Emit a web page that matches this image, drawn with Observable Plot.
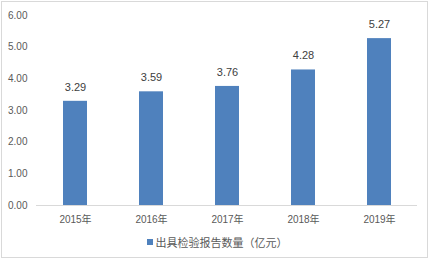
<!DOCTYPE html>
<html>
<head>
<meta charset="utf-8">
<script src="https://cdn.jsdelivr.net/npm/d3@7"></script>
<script src="https://cdn.jsdelivr.net/npm/@observablehq/plot@0.6"></script>
<style>
  body { margin: 0; background: #fff; }
  #frame { position: absolute; left: 1px; top: 1px; width: 427px; height: 257px; border: 1px solid #d9d9d9; box-sizing: border-box; }
  #chart { position: absolute; left: 0; top: 0; }
  #legend { position: absolute; left: 0; top: 232px; width: 434px; height: 20px; display: flex; justify-content: center; align-items: center; font-family: "Liberation Sans", "Noto Sans CJK SC", sans-serif; font-size: 11px; color: #595959; }
  #legend .sw { display: inline-block; width: 6px; height: 6px; background: #4F81BD; margin-right: 3px; }
</style>
</head>
<body>
<div id="frame"></div>
<div id="chart"></div>
<div id="legend"><span class="sw"></span><span id="legend-label"></span></div>
<script>
const years = ["2015年", "2016年", "2017年", "2018年", "2019年"];
const values = [3.29, 3.59, 3.76, 4.28, 5.27];
const seriesName = "出具检验报告数量（亿元）";
const yTicks = [0, 1, 2, 3, 4, 5, 6];

const data = years.map((y, i) => ({year: y, value: values[i]}));
const font = "\"Liberation Sans\", \"Noto Sans CJK SC\", sans-serif";

const chart = Plot.plot({
  width: 434,
  height: 232,
  marginLeft: 36,
  marginRight: 17,
  marginTop: 15,
  marginBottom: 27,
  style: {fontFamily: font, fontSize: "10px", color: "#595959", background: "transparent"},
  x: {domain: years, paddingInner: 0.685, paddingOuter: 0.3425, label: null, tickSize: 0, tickPadding: 10},
  y: {domain: [0, 6], ticks: yTicks, tickFormat: d3.format(".2f"), label: null, tickSize: 0, tickPadding: 9},
  marks: [
    Plot.barY(data, {x: "year", y: "value", fill: "#4F81BD"}),
    Plot.ruleY([0], {stroke: "#d9d9d9", strokeWidth: 1}),
    Plot.text(data, {x: "year", y: "value", text: d => d.value.toFixed(2), dy: -14, fill: "#404040", fontSize: 11})
  ]
});
document.getElementById("chart").appendChild(chart);
document.getElementById("legend-label").textContent = seriesName;
</script>
</body>
</html>
